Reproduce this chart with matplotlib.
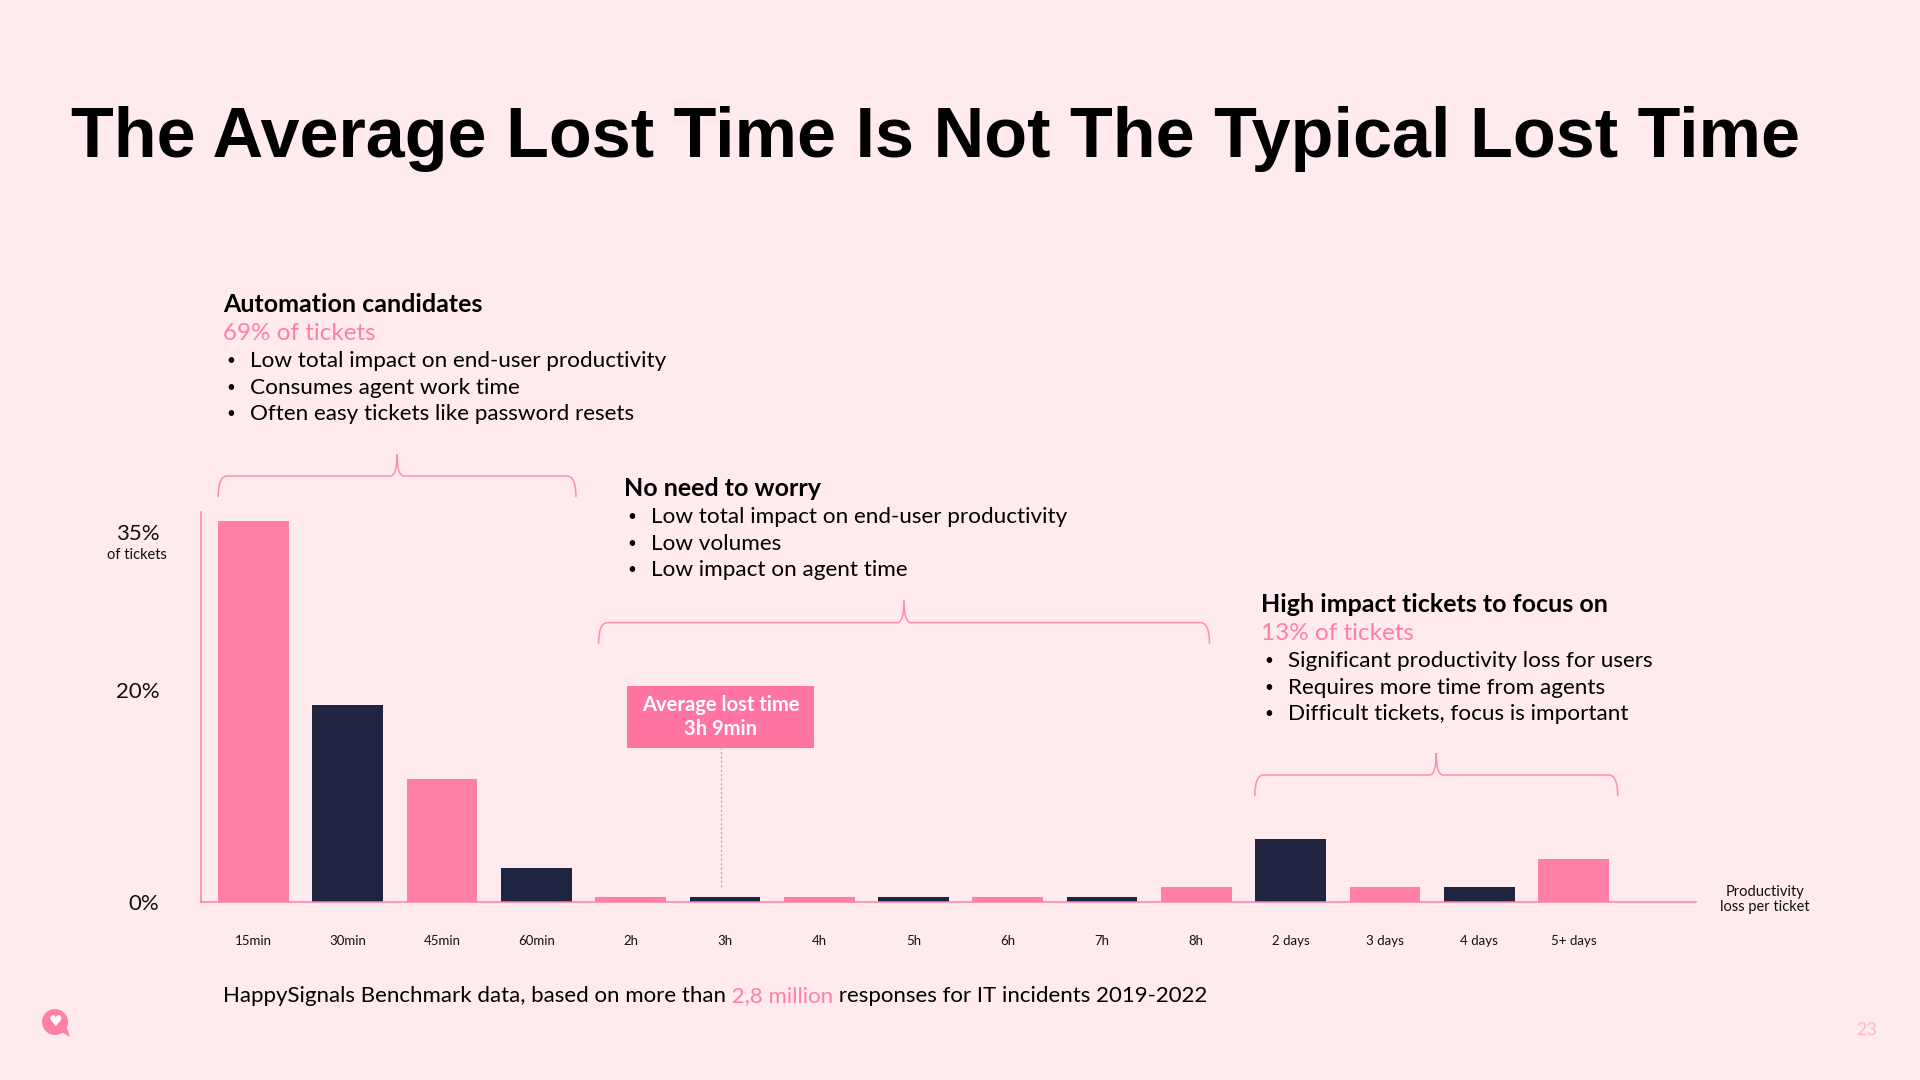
import matplotlib
matplotlib.use('Agg')
import matplotlib.pyplot as plt
from matplotlib.patches import Rectangle, Circle, Polygon, PathPatch
from matplotlib.path import Path

# data
labels = ['15min', '30min', '45min', '60min', '2h', '3h', '4h', '5h', '6h', '7h', '8h',
          '2 days', '3 days', '4 days', '5+ days']
share = [36.0, 18.6, 11.6, 3.2, 0.5, 0.5, 0.5, 0.5, 0.5, 0.5, 1.4, 6.0, 1.4, 1.4, 4.1]
y_ticks = [0, 20, 35]
y_ticklabels = ['0%', '20%', '35%']
avg_pos = 4.96   # 3h 9min sits just at the 3h bar

# bracket groups: (x start, x end, y level) in bar units / % units
braces = [(-0.375, 3.42, 40.26), (3.66, 10.14, 26.4), (10.62, 14.47, 12.0)]

BG = '#FFEAEE'
PINK = '#FF7FA6'
NAVY = '#1F2440'
BOXPINK = '#FF74A0'
LINEPINK = '#FF8DB1'
BODY = ['Lato', 'DejaVu Sans']

plt.rcParams['font.family'] = BODY

fig = plt.figure(figsize=(19.2, 10.8), dpi=100, facecolor=BG)
ax = fig.add_axes([201/1920, 178/1080, 1495/1920, 390/1080])
ax.set_facecolor(BG)

x = list(range(len(labels)))
cols = [PINK if i % 2 == 0 else NAVY for i in x]
ax.bar(x, share, width=0.75, color=cols, zorder=2)

ax.set_xlim(-0.557, 15.30)
ax.set_ylim(0, 36.86)
for s in ['top', 'right']:
    ax.spines[s].set_visible(False)
for s in ['left', 'bottom']:
    ax.spines[s].set_color(PINK)
    ax.spines[s].set_linewidth(1.1)
ax.set_xticks(x)
ax.set_xticklabels(labels, fontsize=9.5, color='#111111')
ax.set_yticks(y_ticks)
ax.set_yticklabels(y_ticklabels, fontsize=16, color='#111111')
ax.tick_params(axis='x', length=0, pad=24)
ax.tick_params(axis='y', length=0, pad=30)
ax.text(-1.235, 32.8, 'of tickets', fontsize=10.5, ha='center', va='center', color='#111111', clip_on=False)
ax.text(16.03, 0.2, 'Productivity\nloss per ticket', fontsize=10.5, ha='center', va='center',
        color='#111111', linespacing=1.1, clip_on=False)

# average marker line
ax.plot([avg_pos, avg_pos], [1.4, 14.6], color=PINK, lw=0.8, ls=(0, (2, 2)), clip_on=False, zorder=3)

# curly brackets
px_x = 94.3
px_y = 10.58
for x0, x1, y in braces:
    tip = 21 / px_y
    peak = 22 / px_y
    rx = 9 / px_x
    pm = 7 / px_x
    xm = (x0 + x1) / 2
    verts = [(x0, y - tip), (x0, y), (x0 + rx, y), (xm - pm, y), (xm, y), (xm, y + peak),
             (xm, y), (xm + pm, y), (x1 - rx, y), (x1, y), (x1, y - tip)]
    codes = [Path.MOVETO, Path.CURVE3, Path.CURVE3, Path.LINETO, Path.CURVE3, Path.CURVE3,
             Path.CURVE3, Path.CURVE3, Path.LINETO, Path.CURVE3, Path.CURVE3]
    ax.add_patch(PathPatch(Path(verts, codes), fill=False, edgecolor=LINEPINK, lw=1.1, clip_on=False))

# overlay in pixel coordinates for slide text
ov = fig.add_axes([0, 0, 1, 1])
ov.set_xlim(0, 1920)
ov.set_ylim(1080, 0)
ov.axis('off')
ov.patch.set_alpha(0)

ov.text(71, 139, 'The Average Lost Time Is Not The Typical Lost Time', fontsize=50.5,
        fontweight='bold', family=['Liberation Sans', 'DejaVu Sans'], va='center', ha='left', color='black')

def block(x0, y0, head, pink, bullets):
    y = y0
    ov.text(x0, y, head, fontsize=18, fontweight='bold', va='center', color='black')
    y += 29
    if pink:
        ov.text(x0, y, pink, fontsize=17.5, va='center', color=PINK)
        y += 27
    for b in bullets:
        ov.text(x0 + 3, y, '•', fontsize=11, va='center', color='black')
        ov.text(x0 + 27, y, b, fontsize=16.2, va='center', color='black')
        y += 26.5

block(223, 305, 'Automation candidates', '69% of tickets',
      ['Low total impact on end-user productivity', 'Consumes agent work time',
       'Often easy tickets like password resets'])
block(624, 488, 'No need to worry', None,
      ['Low total impact on end-user productivity', 'Low volumes', 'Low impact on agent time'])
block(1261, 605, 'High impact tickets to focus on', '13% of tickets',
      ['Significant productivity loss for users', 'Requires more time from agents',
       'Difficult tickets, focus is important'])

# average box
ov.add_patch(Rectangle((627, 686), 187, 62, facecolor=BOXPINK, edgecolor='none'))
ov.text(720.5, 705, 'Average lost time', fontsize=14.5, color='white', ha='center', va='center', fontweight='bold')
ov.text(720.5, 729, '3h 9min', fontsize=14.5, color='white', ha='center', va='center', fontweight='bold')

# footer
t1 = ov.text(223, 996, 'HappySignals Benchmark data, based on more than', fontsize=16, va='center', color='black')
t2 = ov.annotate(' 2,8 million', xy=(1, 0), xycoords=t1, va='bottom', ha='left', fontsize=16, color=PINK)
ov.annotate(' responses for IT incidents 2019-2022', xy=(1, 0), xycoords=t2, va='bottom', ha='left',
            fontsize=16, color='black')

# logo and page number
ov.add_patch(Circle((55, 1022), 13, facecolor=PINK, edgecolor='none'))
ov.add_patch(Polygon([(58, 1030), (70, 1037), (66, 1025)], closed=True, facecolor=PINK, edgecolor='none'))
ov.text(55, 1022, '♥', fontsize=11, color='white', ha='center', va='center', family=['DejaVu Sans'])
ov.text(1867, 1030, '23', fontsize=13, color='#FFB8CC', ha='center', va='center')

fig.savefig('out.png', dpi=100, facecolor=BG)
